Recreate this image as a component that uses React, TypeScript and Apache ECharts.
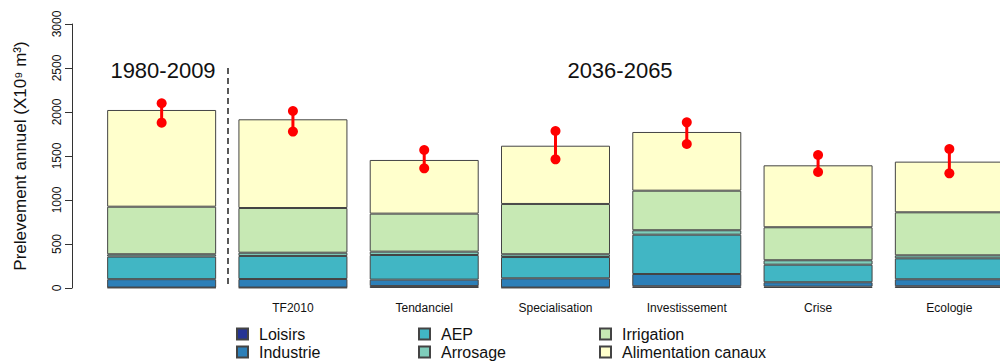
import React, { useEffect, useRef } from "react";
import * as echarts from "echarts";

const categories = ["", "TF2010", "Tendanciel", "Specialisation", "Investissement", "Crise", "Ecologie"];
const loisirs = [5, 5, 22, 5, 20, 15, 20];
const industrie = [95, 97, 73, 105, 139, 50, 79];
const aep = [257, 262, 280, 242, 447, 200, 238];
const arrosage = [26, 37, 38, 31, 50, 50, 34];
const irrigation = [541, 508, 432, 572, 450, 375, 489];
const canaux = [1099, 1008, 610, 662, 667, 704, 576];
const rangeHigh = [2099, 2011, 1568, 1784, 1883, 1511, 1580];
const rangeLow = [1879, 1777, 1360, 1462, 1636, 1318, 1303];
const yTicks = { min: 0, max: 3000, interval: 500 };
const periodLabels = ["1980-2009", "2036-2065"];

const seriesDefs = [
  { name: "Loisirs", data: loisirs, color: "#253494" },
  { name: "Industrie", data: industrie, color: "#2c7fb8" },
  { name: "AEP", data: aep, color: "#41b6c4" },
  { name: "Arrosage", data: arrosage, color: "#7fcdbb" },
  { name: "Irrigation", data: irrigation, color: "#c7e9b4" },
  { name: "Alimentation canaux", data: canaux, color: "#ffffcc" },
];

export default function App() {
  const ref = useRef<HTMLDivElement>(null);
  useEffect(() => {
    if (!ref.current) return;
    const chart = echarts.init(ref.current, undefined, { renderer: "svg" });
    const font = "Liberation Sans, Arial, sans-serif";
    const legendBase = {
      orient: "vertical",
      top: 321,
      height: 60,
      itemWidth: 11,
      itemHeight: 11,
      itemGap: 2,
      icon: "rect",
      textStyle: { fontSize: 16, lineHeight: 16, fontFamily: font, color: "#111", padding: [0, 0, 0, 6] },
      selectedMode: false,
    };
    chart.setOption({
      animation: false,
      textStyle: { fontFamily: font },
      grid: { left: 96, top: 24, width: 919, height: 264, outerBoundsMode: "none", containLabel: false },
      legend: [
        { ...legendBase, left: 231, data: ["Loisirs", "Industrie"] },
        { ...legendBase, left: 413, data: ["AEP", "Arrosage"] },
        { ...legendBase, left: 594, data: ["Irrigation", "Alimentation canaux"] },
      ],
      xAxis: {
        type: "category",
        data: categories,
        axisLine: { show: false },
        axisTick: { show: false },
        axisLabel: { fontSize: 12, color: "#111", margin: 14, fontFamily: font },
      },
      yAxis: {
        type: "value",
        min: yTicks.min,
        max: yTicks.max,
        interval: yTicks.interval,
        offset: 24,
        splitLine: { show: false },
        axisLine: { show: true, lineStyle: { color: "#333", width: 1 } },
        axisTick: { show: true, length: 7, lineStyle: { color: "#333" } },
        axisLabel: { rotate: 90, fontSize: 12, color: "#111", margin: 9, fontFamily: font, formatter: (v: number) => String(v) },
        name: "Prelevement annuel (X10⁹ m³)",
        nameLocation: "middle",
        nameGap: 43,
        nameTextStyle: { fontSize: 17, color: "#111", fontFamily: font },
      },
      series: [
        ...seriesDefs.map((s) => ({
          name: s.name,
          type: "bar",
          stack: "total",
          barWidth: 109,
          data: s.data,
          itemStyle: { color: s.color, borderColor: "#444", borderWidth: 1 },
        })),
        {
          type: "custom",
          name: "range",
          data: rangeHigh.map((h, i) => [i, rangeLow[i], h]),
          z: 10,
          renderItem: (params: any, api: any) => {
            const x = api.value(0);
            const p1 = api.coord([x, api.value(1)]);
            const p2 = api.coord([x, api.value(2)]);
            return {
              type: "group",
              children: [
                { type: "line", shape: { x1: p1[0], y1: p1[1], x2: p2[0], y2: p2[1] }, style: { stroke: "#ff0000", lineWidth: 3 } },
                { type: "circle", shape: { cx: p1[0], cy: p1[1], r: 5 }, style: { fill: "#ff0000" } },
                { type: "circle", shape: { cx: p2[0], cy: p2[1], r: 5 }, style: { fill: "#ff0000" } },
              ],
            };
          },
        },
      ],
      graphic: [
        { type: "line", shape: { x1: 228, y1: 68, x2: 228, y2: 288 }, style: { stroke: "#222", lineWidth: 1.5, lineDash: [6, 4] } },
        { type: "text", x: 163, y: 70, style: { text: periodLabels[0], fill: "#111", font: "22px Liberation Sans, Arial, sans-serif", textAlign: "center", textVerticalAlign: "middle" } },
        { type: "text", x: 620, y: 70, style: { text: periodLabels[1], fill: "#111", font: "22px Liberation Sans, Arial, sans-serif", textAlign: "center", textVerticalAlign: "middle" } },
      ],
    });
    return () => chart.dispose();
  }, []);
  return <div ref={ref} style={{ position: "fixed", left: 0, top: 0, width: 1000, height: 362, background: "#fff" }} />;
}
